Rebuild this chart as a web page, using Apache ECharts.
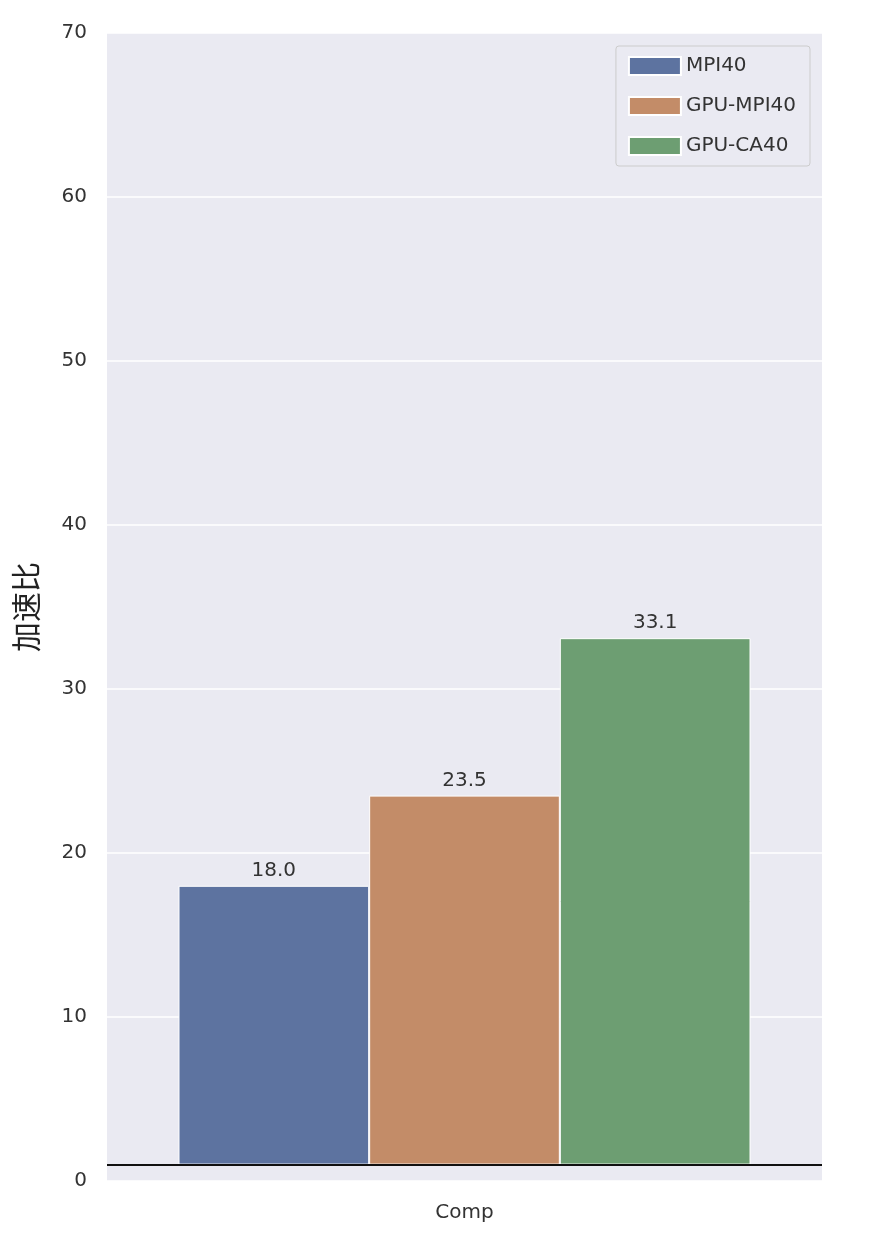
<!DOCTYPE html>
<html>
<head>
<meta charset="utf-8">
<script src="https://cdn.jsdelivr.net/npm/echarts@6/dist/echarts.min.js"></script>
<style>html,body{margin:0;padding:0;background:#fff}#chart{width:870px;height:1244px}</style>
</head>
<body>
<div id="chart"></div>
<script>
var categories = ['Comp'];
var seriesNames = ['MPI40', 'GPU-MPI40', 'GPU-CA40'];
var seriesValues = [18.0, 23.5, 33.1];
var baseline = 1;
var colors = ['#5d73a0', '#c38c68', '#6d9e72'];

var series = [];
seriesNames.forEach(function (name, i) {
    // invisible base so the bars start at the baseline
    series.push({
        name: '_base' + i, type: 'bar', stack: 's' + i, silent: true,
        data: [baseline], itemStyle: { color: 'transparent' }
    });
    series.push({
        name: name, type: 'bar', stack: 's' + i,
        data: [seriesValues[i] - baseline],
        itemStyle: { color: colors[i], borderColor: '#fff', borderWidth: 1 },
        label: {
            show: true, position: 'top', color: '#333', fontSize: 20,
            fontFamily: 'DejaVu Sans',
            formatter: function () { return seriesValues[i].toFixed(1); }
        }
    });
});
series[1].markLine = {
    silent: true, symbol: 'none', label: { show: false },
    lineStyle: { color: '#111', width: 2, type: 'solid' },
    data: [{ yAxis: baseline }]
};

var chart = echarts.init(document.getElementById('chart'));
chart.setOption({
    backgroundColor: '#fff',
    textStyle: { fontFamily: 'DejaVu Sans' },
    grid: { left: 107, right: 48, top: 33, bottom: 63, backgroundColor: '#eaeaf2', show: true, borderWidth: 0 },
    legend: {
        data: seriesNames, orient: 'vertical', right: 60, top: 46,
        itemWidth: 52, itemHeight: 18, itemGap: 20, icon: 'rect',
        padding: [10, 14, 10, 12],
        backgroundColor: '#eaeaf2', borderColor: '#ccc', borderWidth: 1, borderRadius: 3,
        textStyle: { fontSize: 20, color: '#333', fontFamily: 'DejaVu Sans' }
    },
    xAxis: {
        type: 'category', data: categories,
        axisLine: { show: false }, axisTick: { show: false },
        axisLabel: { fontSize: 20, color: '#333', margin: 22 }
    },
    yAxis: {
        type: 'value', min: 0, max: 70, interval: 10,
        name: '加速比', nameLocation: 'middle', nameGap: 66, nameRotate: 90,
        nameTextStyle: { fontSize: 30, color: '#222', fontFamily: 'Noto Sans CJK SC' },
        axisLine: { show: false }, axisTick: { show: false },
        axisLabel: { fontSize: 20, color: '#333', margin: 20 },
        splitLine: { lineStyle: { color: '#fff', width: 1.5 } }
    },
    color: colors,
    series: series.map(function (s) { s.barGap = '0%'; s.barCategoryGap = '20%'; return s; })
});
</script>
</body>
</html>
